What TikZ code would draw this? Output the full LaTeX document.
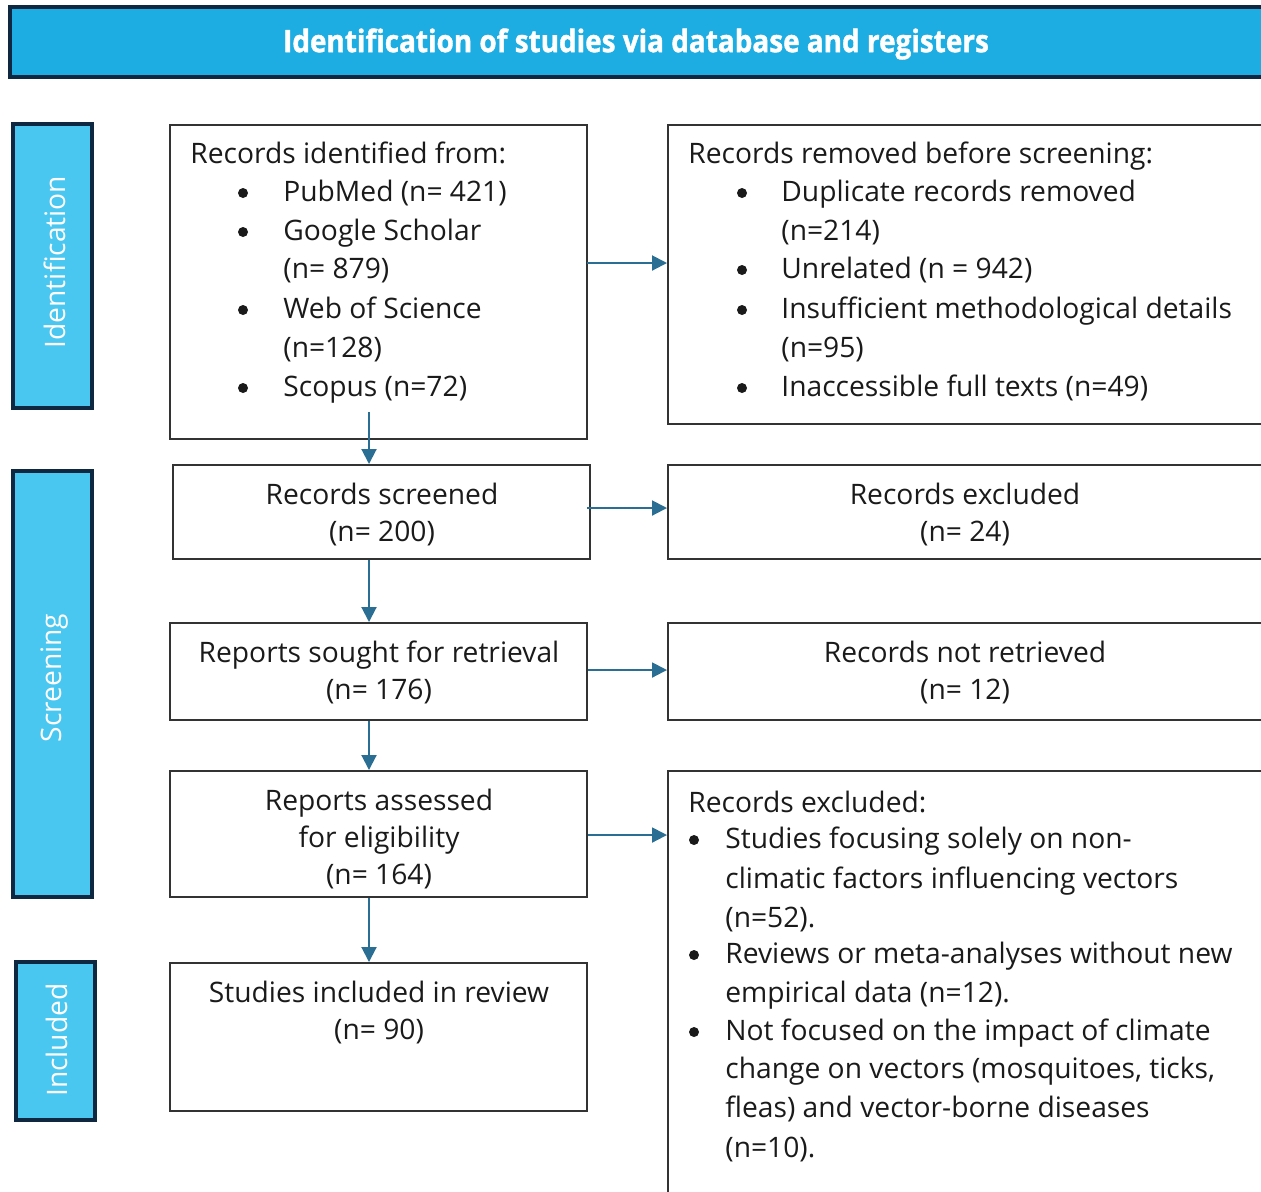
\documentclass[tikz,border=0pt]{standalone}
\usepackage{fontspec}
\setmainfont{Open Sans}
\newfontfamily\headfont[FakeStretch=0.9,FakeBold=1.2]{Open Sans}
\usetikzlibrary{fit,arrows.meta}
\definecolor{headblue}{HTML}{1DADE2}
\definecolor{sideblue}{HTML}{4AC7F0}
\definecolor{navy}{HTML}{0E2841}
\definecolor{arrowc}{HTML}{2B6E93}
\definecolor{boxline}{HTML}{333333}
\definecolor{textc}{HTML}{1A1A1A}
\begin{document}
\begin{tikzpicture}[x=0.5pt,y=-0.5pt,
  box/.style={draw=boxline,line width=1pt,inner sep=0pt,fit={#1}},
  headbox/.style={draw=navy,fill=headblue,line width=1.6pt,inner sep=0pt,fit={#1}},
  sidebox/.style={draw=navy,fill=sideblue,line width=1.6pt,inner sep=0pt,fit={#1}},
  txt/.style={anchor=base west,inner sep=0pt,text=textc,font=\fontsize{14.1}{17}\selectfont},
  ctxt/.style={anchor=base,inner sep=0pt,text=textc,font=\fontsize{14.1}{17}\selectfont},
  dot/.style={circle,fill=textc,inner sep=0pt,minimum size=5pt},
  sidetxt/.style={rotate=90,inner sep=0pt,text=white,font=\fontsize{14.1}{17}\selectfont},
  flow/.style={draw=arrowc,line width=1pt,-{Triangle[length=7.5pt,width=7.5pt]}}
]
\clip (0,0) rectangle (1261,1191);
\useasboundingbox (0,0) rectangle (1261,1191);

% header
\node[headbox={(10,7)(1275,77)}] (head) {};
\node[inner sep=0pt,text=white,font=\headfont\bfseries\fontsize{15.5}{18}\selectfont] (headtxt) at (636,44) {Identification of studies via database and registers};

% side bars
\node[sidebox={(13,124)(92,408)}] (sideid) {};
\node[sidetxt] (sideidt) at (55,262) {Identification};
\node[sidebox={(13,471)(92,897)}] (sidescr) {};
\node[sidetxt] (sidescrt) at (55,678) {Screening};
\node[sidebox={(16,962)(95,1120)}] (sideinc) {};
\node[sidetxt] (sideinct) at (57,1040) {Included};

% left boxes
\node[box={(170,125)(587,439)}] (id) {};
\node[box={(173,465)(590,559)}] (scr) {};
\node[box={(170,623)(587,720)}] (sought) {};
\node[box={(170,771)(587,897)}] (assessed) {};
\node[box={(170,963)(587,1111)}] (incl) {};

% right boxes
\node[box={(668,125)(1275,424)}] (removed) {};
\node[box={(668,465)(1275,559)}] (excl1) {};
\node[box={(668,623)(1275,720)}] (notretr) {};
\node[box={(668,771)(1275,1210)}] (excl2) {};

% text: identification box
\node[txt] (t1) at (190,163) {Records identified from:};
\node[dot] (b11) at (243,193) {};
\node[txt] (t11) at (283,201) {PubMed (n= 421)};
\node[dot] (b12) at (243,232) {};
\node[txt] (t12) at (283,240) {Google Scholar};
\node[txt] (t12b) at (283,278) {(n= 879)};
\node[dot] (b13) at (243,310) {};
\node[txt] (t13) at (283,318) {Web of Science};
\node[txt] (t13b) at (283,357) {(n=128)};
\node[dot] (b14) at (243,388) {};
\node[txt] (t14) at (283,396) {Scopus (n=72)};

% text: removed box
\node[txt] (r1) at (688,163) {Records removed before screening:};
\node[dot] (rb1) at (742,193) {};
\node[txt] (r11) at (781,201) {Duplicate records removed};
\node[txt] (r11b) at (781,240) {(n=214)};
\node[dot] (rb2) at (742,270) {};
\node[txt] (r12) at (781,278) {Unrelated (n = 942)};
\node[dot] (rb3) at (742,310) {};
\node[txt] (r13) at (781,318) {Insufficient methodological details};
\node[txt] (r13b) at (781,357) {(n=95)};
\node[dot] (rb4) at (742,388) {};
\node[txt] (r14) at (781,396) {Inaccessible full texts (n=49)};

% centred texts
\node[ctxt] (s1) at (382,504) {Records screened};
\node[ctxt] (s2) at (382,541) {(n= 200)};
\node[ctxt] (e1) at (965,504) {Records excluded};
\node[ctxt] (e2) at (965,541) {(n= 24)};
\node[ctxt] (g1) at (379,662) {Reports sought for retrieval};
\node[ctxt] (g2) at (379,699) {(n= 176)};
\node[ctxt] (n1) at (965,662) {Records not retrieved};
\node[ctxt] (n2) at (965,699) {(n= 12)};
\node[ctxt] (a1) at (379,810) {Reports assessed};
\node[ctxt] (a2) at (379,847) {for eligibility};
\node[ctxt] (a3) at (379,884) {(n= 164)};
\node[ctxt] (i1) at (379,1002) {Studies included in review};
\node[ctxt] (i2) at (379,1039) {(n= 90)};

% text: excluded box 2
\node[txt] (x0) at (688,812) {Records excluded:};
\node[dot] (xb1) at (694,840) {};
\node[txt] (x11) at (725,848) {Studies focusing solely on non-};
\node[txt] (x12) at (725,888) {climatic factors influencing vectors};
\node[txt] (x13) at (725,927) {(n=52).};
\node[dot] (xb2) at (694,955) {};
\node[txt] (x21) at (725,963) {Reviews or meta-analyses without new};
\node[txt] (x22) at (725,1002) {empirical data (n=12).};
\node[dot] (xb3) at (694,1032) {};
\node[txt] (x31) at (725,1040) {Not focused on the impact of climate};
\node[txt] (x32) at (725,1078) {change on vectors (mosquitoes, ticks,};
\node[txt] (x33) at (725,1117) {fleas) and vector-borne diseases};
\node[txt] (x34) at (725,1157) {(n=10).};

% connectors
\coordinate (colx) at (369,412);
\draw[flow] (colx) -- (scr.north -| colx);
\draw[flow] (scr.south -| colx) -- (sought.north -| colx);
\draw[flow] (sought.south -| colx) -- (assessed.north -| colx);
\draw[flow] (assessed.south -| colx) -- (incl.north -| colx);

\coordinate (h1) at (587,263);
\draw[flow] (h1) -- (removed.west |- h1);
\coordinate (h2) at (587,508);
\draw[flow] (h2) -- (excl1.west |- h2);
\draw[flow] (sought.east |- 0,670) -- (notretr.west |- 0,670);
\draw[flow] (assessed.east |- 0,835) -- (excl2.west |- 0,835);
\end{tikzpicture}
\end{document}
